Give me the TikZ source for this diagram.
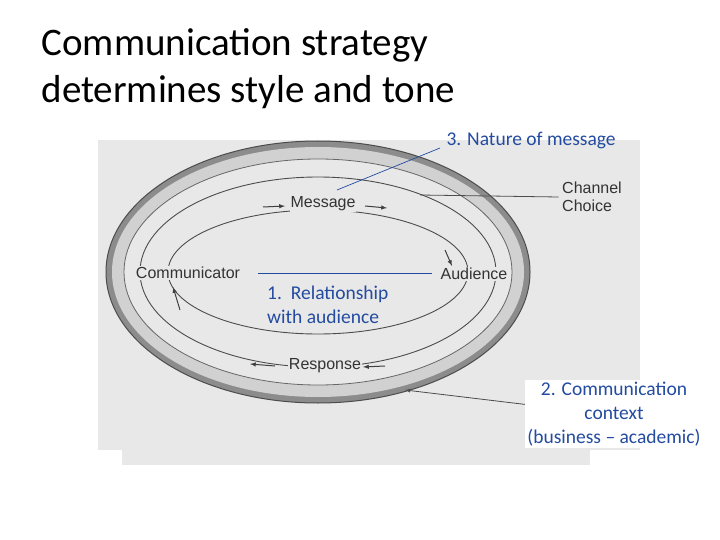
\documentclass[tikz,border=0pt]{standalone}
\usepackage{fontspec}
\setmainfont{Carlito}
\newfontfamily\scanfont{Liberation Sans}
\definecolor{annblue}{RGB}{35,75,160}
\begin{document}
\begin{tikzpicture}[x=1pt,y=-1pt,
  scan/.style={font=\scanfont\fontsize{16}{18}\selectfont,text=black!80},
  blue lbl/.style={font=\fontsize{19.5}{24}\selectfont,text=annblue,align=left},
  arr/.style={-latex,line width=1pt,black!75}]
\useasboundingbox (0,0) rectangle (720,540);
\fill[white] (0,0) rectangle (720,540);
% title
\node[anchor=west,font=\fontsize{39}{40}\selectfont] (t1) at (38,45) {Communication strategy};
\node[anchor=west,font=\fontsize{39}{40}\selectfont] (t2) at (38,92) {determines style and tone};
% scan background
\fill[black!9] (98,140) rectangle (640,450);
\fill[black!9] (122,450) rectangle (590,465);
% outer band
\fill[black!45] (318,272) ellipse [x radius=212, y radius=131];
\fill[black!18] (318,272) ellipse [x radius=206, y radius=125];
\fill[black!9] (318,272) ellipse [x radius=194, y radius=113];
\draw[black!70,line width=1pt] (318,272) ellipse [x radius=212, y radius=131];
\draw[black!60,line width=0.8pt] (318,272) ellipse [x radius=194, y radius=113];
% inner arcs
\draw[black!70,line width=0.9pt] (318,272) ellipse [x radius=178, y radius=95];
\draw[black!70,line width=0.9pt] (318,272) ellipse [x radius=150, y radius=62];
% nodes
\node[scan,fill=black!9,inner sep=1pt] (msg) at (323,204) {Message};
\node[scan,fill=black!9,inner sep=1pt] (resp) at (325,366) {Response};
\node[scan,fill=black!9,inner sep=1pt] (comm) at (188,273) {Communicator};
\node[scan,fill=black!9,inner sep=1pt] (aud) at (474,274) {Audience};
\node[scan,align=left] (ch) at (592,197) {Channel\\Choice};
% arrows
\coordinate (m1) at (263,207); \coordinate (m2) at (285,206);
\draw[arr] (m1) -- (m2);
\coordinate (m3) at (365,206); \coordinate (m4) at (387,208);
\draw[arr] (m3) -- (m4);
\coordinate (r1) at (385,366); \coordinate (r2) at (363,367);
\draw[arr] (r1) -- (r2);
\coordinate (r3) at (275,366); \coordinate (r4) at (250,364);
\draw[arr] (r3) -- (r4);
\coordinate (a1) at (445,250); \coordinate (a2) at (452,266);
\draw[arr] (a1) -- (a2);
\coordinate (c1) at (180,310); \coordinate (c2) at (173,287);
\draw[arr] (c1) -- (c2);
% channel line
\coordinate (chb) at (420,195);
\draw[black!70,line width=0.8pt] (chb) -- (ch.west);
% context line
\coordinate (ctxb) at (405,390); \coordinate (ctxe) at (530,405);
\draw[black!70,line width=0.8pt,-latex] (ctxe) -- (ctxb);
% blue annotations
\node[blue lbl,anchor=west] (n3) at (443,140) {3. Nature of message};
\coordinate (n3a) at (440,148); \coordinate (n3b) at (337,190);
\draw[annblue,line width=0.7pt] (n3a) -- (n3b);
\node[blue lbl,anchor=north west,inner sep=1pt] (n1) at (266,285) {1.\ \ Relationship\\with audience};
\coordinate (n1a) at (258,273); \coordinate (n1b) at (432,273);
\draw[annblue,line width=0.7pt] (n1a) -- (n1b);
\node[blue lbl,align=center,fill=white,inner sep=2pt] (n2) at (614,414) {2. Communication\\context\\(business -- academic)};
\end{tikzpicture}
\end{document}
